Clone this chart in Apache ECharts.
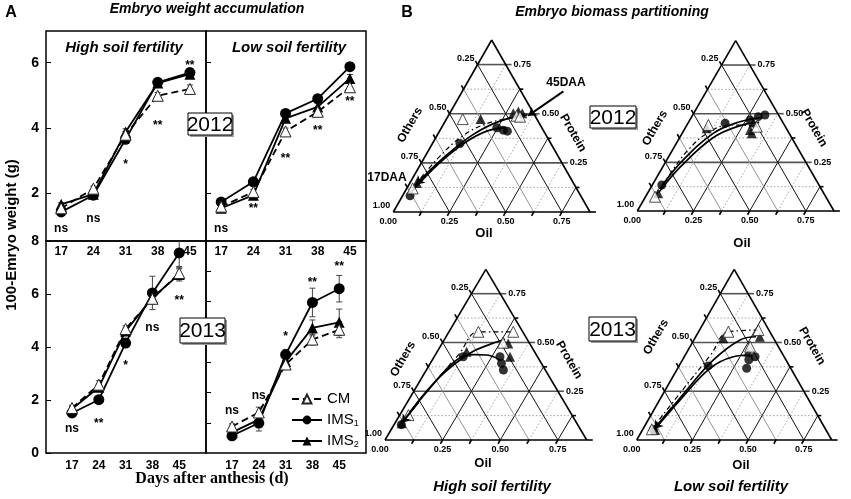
<!DOCTYPE html>
<html>
<head>
<meta charset="utf-8">
<script src="https://cdn.jsdelivr.net/npm/echarts@6/dist/echarts.min.js"></script>
<style>
  html, body { margin: 0; padding: 0; background: #fff; }
  #chart { width: 851px; height: 499px; }
</style>
</head>
<body>
<div id="chart"></div>
<script>
// ---------- panel A: embryo weight (g) ----------
const days = [17, 24, 31, 38, 45];

const cm12H   = [1.55, 2.15, 3.80, 4.99, 5.20];
const ims1_12H = [1.44, 1.95, 3.66, 5.40, 5.70];
const ims2_12H = [1.67, 1.98, 3.88, 5.38, 5.65];
const err12H  = [0.05, 0.08, 0.10, 0.10, 0.12];
const sig12H  = ['ns', 'ns', '*', '**', '**'];
const sigY12H = [0.91, 1.24, 2.96, 4.18, 6.0];

const cm12L   = [1.60, 2.05, 3.90, 4.50, 5.25];
const ims1_12L = [1.74, 2.36, 4.45, 4.90, 5.88];
const ims2_12L = [1.55, 1.95, 4.30, 4.65, 5.52];
const err12L  = [0.05, 0.08, 0.10, 0.10, 0.12];
const sig12L  = ['ns', '**', '**', '**', '**'];
const sigY12L = [0.94, 1.64, 3.17, 4.0, 4.89];

const cm13H   = [1.70, 2.58, 4.68, 5.82, 6.79];
const ims1_13H = [1.51, 2.01, 4.15, 6.04, 7.55];
const ims2_13H = [1.66, 2.48, 4.60, 5.86, 6.74];
const errCM13H = [0.10, 0.15, 0.12, 0.20, 0.25];
const errI1_13H = [0.10, 0.10, 0.15, 0.63, 0.60];
const errI2_13H = [0.10, 0.12, 0.12, 0.20, 0.25];
const sig13H  = ['ns', '**', '*', 'ns', '**'];
const sigY13H = [0.92, 1.22, 3.41, 4.73, 5.86];

const cm13L   = [1.00, 1.53, 3.34, 4.28, 4.65];
const ims1_13L = [0.65, 1.13, 3.71, 5.68, 6.20];
const ims2_13L = [0.78, 1.26, 3.45, 4.72, 4.93];
const errCM13L = [0.10, 0.20, 0.15, 0.20, 0.30];
const errI1_13L = [0.10, 0.30, 0.20, 0.54, 0.50];
const errI2_13L = [0.10, 0.20, 0.20, 0.30, 0.50];
const sig13L  = ['ns', 'ns', '*', '**', '**'];
const sigY13L = [1.6, 2.16, 4.5, 6.54, 7.14];

const yTicksTop = [2, 4, 6];
const yTicksBottom = [0, 2, 4, 6, 8];
const yTicksBottomRight = [1.14, 2.29, 3.43, 4.57, 5.71, 6.86];

// ---------- panel B: ternary points [oil, protein] (others = rest) ----------
const t12H_cm   = [[0.03, 0.137], [0.083, 0.54], [0.347, 0.56], [0.367, 0.554]];
const t12H_ims1 = [[0.038, 0.094], [0.14, 0.398], [0.281, 0.49], [0.321, 0.476], [0.345, 0.47]];
const t12H_ims2 = [[0.035, 0.169], [0.174, 0.54], [0.323, 0.574], [0.344, 0.584], [0.369, 0.574]];
const f12H_cm   = [[0.03, 0.14], [0.07, 0.31], [0.13, 0.44], [0.22, 0.515], [0.36, 0.555]];
const f12H_ims1 = [[0.035, 0.12], [0.09, 0.28], [0.16, 0.40], [0.24, 0.47], [0.33, 0.49]];
const f12H_ims2 = [[0.035, 0.16], [0.10, 0.32], [0.18, 0.45], [0.28, 0.53], [0.40, 0.565]];

const t12L_cm   = [[0.048, 0.084], [0.109, 0.505], [0.36, 0.495]];
const t12L_ims1 = [[0.048, 0.153], [0.189, 0.515], [0.306, 0.534], [0.338, 0.554], [0.367, 0.564]];
const t12L_ims2 = [[0.054, 0.104], [0.11, 0.486], [0.335, 0.476], [0.354, 0.456], [0.33, 0.52]];
const f12L_cm   = [[0.048, 0.09], [0.06, 0.24], [0.08, 0.36], [0.13, 0.46], [0.22, 0.505], [0.36, 0.50]];
const f12L_ims1 = [[0.05, 0.13], [0.077, 0.28], [0.158, 0.456], [0.26, 0.524], [0.36, 0.55]];
const f12L_ims2 = [[0.055, 0.11], [0.09, 0.26], [0.17, 0.43], [0.27, 0.50], [0.36, 0.52]];

const t13H_cm   = [[0.043, 0.146], [0.146, 0.634], [0.319, 0.634], [0.30, 0.57]];
const t13H_ims1 = [[0.036, 0.09], [0.144, 0.488], [0.326, 0.488], [0.353, 0.449], [0.382, 0.41]];
const t13H_ims2 = [[0.034, 0.098], [0.146, 0.517], [0.328, 0.566], [0.376, 0.488]];
const f13H_cm   = [[0.043, 0.146], [0.075, 0.33], [0.115, 0.50], [0.146, 0.634], [0.319, 0.634]];
const f13H_ims1 = [[0.034, 0.10], [0.07, 0.30], [0.121, 0.469], [0.19, 0.50], [0.255, 0.498], [0.336, 0.469]];
const f13H_ims2 = [[0.034, 0.10], [0.08, 0.35], [0.167, 0.508], [0.24, 0.56], [0.30, 0.59]];

const t13L_cm   = [[0.046, 0.063], [0.153, 0.634], [0.302, 0.644], [0.308, 0.547]];
const t13L_ims1 = [[0.055, 0.06], [0.15, 0.434], [0.363, 0.488], [0.354, 0.42], [0.34, 0.47]];
const t13L_ims2 = [[0.065, 0.059], [0.146, 0.596], [0.329, 0.605], [0.313, 0.517]];
const f13L_cm   = [[0.046, 0.063], [0.09, 0.30], [0.13, 0.50], [0.153, 0.634], [0.302, 0.644]];
const f13L_ims1 = [[0.06, 0.06], [0.105, 0.234], [0.166, 0.42], [0.251, 0.488], [0.332, 0.498]];
const f13L_ims2 = [[0.06, 0.06], [0.11, 0.293], [0.159, 0.469], [0.237, 0.586], [0.31, 0.605]];

const arrow12H_45 = [[0.514, 0.701], [0.406, 0.56]];
const arrow12H_17 = [[0.07, 0.25], [0.035, 0.16]];
const arrow13H_17 = [[0.055, 0.22], [0.034, 0.10]];
const arrow13L_17 = [[0.085, 0.19], [0.058, 0.065]];

const ternDiv = 7;
const oilTicks = ['0.00', '0.25', '0.50', '0.75'];
const proteinTicks = ['0.00', '0.25', '0.50', '0.75'];
const othersTicks = ['1.00', '0.75', '0.50', '0.25'];

// ---------- helpers ----------
const F = 'Liberation Sans, Arial, sans-serif';
const tern = (o, p) => [o + p / 2, p];

const lineGrids = [
  { left: 46, top: 31, width: 160, height: 210 },
  { left: 206, top: 31, width: 160, height: 210 },
  { left: 46, top: 241, width: 160, height: 212 },
  { left: 206, top: 241, width: 160, height: 212 }
];
const ternGrids = [
  { left: 393.3, top: 40, width: 196.7, height: 172 },
  { left: 637.3, top: 40.7, width: 196.7, height: 170.3 },
  { left: 385, top: 269.3, width: 201.7, height: 170.7 },
  { left: 636.7, top: 269.3, width: 195, height: 170.7 }
];

const panels = [
  { cm: cm12H, i1: ims1_12H, i2: ims2_12H, ecm: err12H, e1: err12H, e2: err12H, sig: sig12H, sigY: sigY12H },
  { cm: cm12L, i1: ims1_12L, i2: ims2_12L, ecm: err12L, e1: err12L, e2: err12L, sig: sig12L, sigY: sigY12L },
  { cm: cm13H, i1: ims1_13H, i2: ims2_13H, ecm: errCM13H, e1: errI1_13H, e2: errI2_13H, sig: sig13H, sigY: sigY13H },
  { cm: cm13L, i1: ims1_13L, i2: ims2_13L, ecm: errCM13L, e1: errI1_13L, e2: errI2_13L, sig: sig13L, sigY: sigY13L }
];
const ternSets = [
  { cm: t12H_cm, i1: t12H_ims1, i2: t12H_ims2, fcm: f12H_cm, f1: f12H_ims1, f2: f12H_ims2, arrows: [arrow12H_45, arrow12H_17] },
  { cm: t12L_cm, i1: t12L_ims1, i2: t12L_ims2, fcm: f12L_cm, f1: f12L_ims1, f2: f12L_ims2, arrows: [] },
  { cm: t13H_cm, i1: t13H_ims1, i2: t13H_ims2, fcm: f13H_cm, f1: f13H_ims1, f2: f13H_ims2, arrows: [arrow13H_17] },
  { cm: t13L_cm, i1: t13L_ims1, i2: t13L_ims2, fcm: f13L_cm, f1: f13L_ims1, f2: f13L_ims2, arrows: [arrow13L_17] }
];

const xAxes = [], yAxes = [], series = [];

// line panels axes
const xRange = [[13.7, 48.5], [13.7, 48.5], [10.2, 52], [10.2, 52]];
const yRange = [[0.55, 6.97], [0.55, 6.97], [0, 8], [0, 8]];
const yTickSets = [yTicksTop, yTicksTop, yTicksBottom, yTicksBottomRight];
const yLabelSets = [yTicksTop, [], yTicksBottom, []];
for (let g = 0; g < 4; g++) {
  xAxes.push({
    gridIndex: g, type: 'value', min: xRange[g][0], max: xRange[g][1],
    axisLine: { show: false }, axisTick: { show: false }, splitLine: { show: false },
    axisLabel: { customValues: days, margin: g < 2 ? 5 : 7, fontSize: 12, fontWeight: 'bold', color: '#000', fontFamily: F }
  });
  yAxes.push({
    gridIndex: g, type: 'value', min: yRange[g][0], max: yRange[g][1],
    axisLine: { show: false }, splitLine: { show: false },
    axisTick: { show: true, inside: true, length: 5, customValues: yTickSets[g], lineStyle: { color: '#000', width: 1 } },
    axisLabel: { show: yLabelSets[g].length > 0, customValues: yLabelSets[g], margin: 7, fontSize: 14, fontWeight: 'bold', color: '#000', fontFamily: F }
  });
}
for (let t = 0; t < 4; t++) {
  xAxes.push({ gridIndex: 4 + t, type: 'value', min: 0, max: 1, show: false });
  yAxes.push({ gridIndex: 4 + t, type: 'value', min: 0, max: 1, show: false });
}

const errRender = (params, api) => {
  const x = api.value(0), y = api.value(1), e = api.value(2);
  const a = api.coord([x, y + e]), b = api.coord([x, y - e]);
  const st = { stroke: '#444', lineWidth: 1 };
  return { type: 'group', children: [
    { type: 'line', shape: { x1: a[0], y1: a[1], x2: b[0], y2: b[1] }, style: st },
    { type: 'line', shape: { x1: a[0] - 3, y1: a[1], x2: a[0] + 3, y2: a[1] }, style: st },
    { type: 'line', shape: { x1: b[0] - 3, y1: b[1], x2: b[0] + 3, y2: b[1] }, style: st }
  ]};
};

const symCM = { symbol: 'triangle', symbolSize: 11, itemStyle: { color: '#fff', borderColor: '#222', borderWidth: 1 } };
const symI1 = { symbol: 'circle', symbolSize: 11, itemStyle: { color: '#000' } };
const symI2 = { symbol: 'triangle', symbolSize: 11, itemStyle: { color: '#000' } };

// text marks drawn as invisible scatter points carrying labels
const textMarks = (data, labelStyle, ax, z) => Object.assign({
  type: 'scatter', silent: true, symbol: 'rect', symbolSize: 0.1, z: z || 7,
  itemStyle: { color: '#fff', opacity: 1 },
  data,
  label: Object.assign({ show: true, position: [0, 0], align: 'center', verticalAlign: 'middle',
    color: '#000', textBorderWidth: 0, formatter: '{b}', fontFamily: F }, labelStyle)
}, ax);

panels.forEach((p, g) => {
  const ax = { xAxisIndex: g, yAxisIndex: g };
  const pts = arr => days.map((d, k) => [d, arr[k]]);
  [[p.i2, p.e2], [p.i1, p.e1], [p.cm, p.ecm]].forEach(([v, e]) => {
    series.push(Object.assign({ type: 'custom', renderItem: errRender, clip: true, z: 1, silent: true,
      data: days.map((d, k) => [d, v[k], e[k]]), encode: { x: 0, y: 1 } }, ax));
  });
  series.push(Object.assign({ type: 'line', name: 'IMS2', data: pts(p.i2), z: 3,
    lineStyle: { color: '#000', width: 1.8 } }, symI2, ax));
  series.push(Object.assign({ type: 'line', name: 'IMS1', data: pts(p.i1), z: 4,
    lineStyle: { color: '#000', width: 1.8 } }, symI1, ax));
  series.push(Object.assign({ type: 'line', name: 'CM', data: pts(p.cm), z: 5,
    lineStyle: { color: '#000', width: 1.8, type: [7, 4] } }, symCM, ax));
  series.push(textMarks(days.map((d, k) => ({ value: [d, p.sigY[k]], name: p.sig[k],
      label: { offset: p.sig[k] === 'ns' ? [0, 0] : [0, 3] } })),
    { fontSize: 12, fontWeight: 'bold' }, ax));
});

// ternary grid lines, edges and small edge ticks
const ternSegs = [];
for (let j = 1; j < ternDiv; j++) {
  const f = j / ternDiv, even = j % 2 === 0;
  ternSegs.push([f, 0, f + (1 - f) / 2, 1 - f, even ? 1 : 3]);   // constant oil
  ternSegs.push([f, 0, f / 2, f, even ? 1 : 2]);                   // constant others
  ternSegs.push([f / 2, f, 1 - f / 2, f, even ? 4 : 3]);           // constant protein
  ternSegs.push([f, 0, f - 0.011, -0.022, 0]);                     // bottom tick
  ternSegs.push([f / 2, f, f / 2 - 0.011, f + 0.022, 0]);          // left tick
  if (!even) ternSegs.push([1 - f / 2, f, 1 - f / 2 + 0.018, f, 0]); // right tick
}
for (let j = 0; j < ternDiv; j += 2) {
  const f = j / ternDiv;
  ternSegs.push([1 - f / 2, f, 1 - f / 2 + 0.03, f, j === 0 ? 0 : 4]);
}
ternSegs.push([0, 0, 1, 0, 0], [0, 0, 0.5, 1, 0], [1, 0, 0.5, 1, 0]);
const segStyles = [
  { stroke: '#000', lineWidth: 1.6 },
  { stroke: '#111', lineWidth: 1 },
  { stroke: '#888', lineWidth: 0.9 },
  { stroke: '#999', lineWidth: 0.9, lineDash: [1.5, 2] },
  { stroke: '#555', lineWidth: 1.6 }
];
const segRender = (params, api) => {
  const a = api.coord([api.value(0), api.value(1)]), b = api.coord([api.value(2), api.value(3)]);
  return { type: 'line', shape: { x1: a[0], y1: a[1], x2: b[0], y2: b[1] }, style: segStyles[api.value(4)] };
};

ternSets.forEach((s, t) => {
  const ax = { xAxisIndex: 4 + t, yAxisIndex: 4 + t };
  const conv = arr => arr.map(q => tern(q[0], q[1]));
  series.push(Object.assign({ type: 'custom', renderItem: segRender, silent: true, z: 1,
    data: ternSegs, encode: { x: [0, 2], y: [1, 3] } }, ax));
  series.push(Object.assign({ type: 'line', smooth: 0.4, symbol: 'none', silent: true, z: 3, data: conv(s.f1),
    lineStyle: { color: '#000', width: 1.7 } }, ax));
  series.push(Object.assign({ type: 'line', smooth: 0.4, symbol: 'none', silent: true, z: 3, data: conv(s.f2),
    lineStyle: { color: '#000', width: 1.7 } }, ax));
  series.push(Object.assign({ type: 'line', smooth: 0.4, symbol: 'none', silent: true, z: 3, data: conv(s.fcm),
    lineStyle: { color: '#000', width: 1.2, type: [5, 3, 1.5, 3] } }, ax));
  series.push(Object.assign({ type: 'scatter', z: 4, data: conv(s.i2) }, symI2, { symbolSize: 10 }, ax));
  series.push(Object.assign({ type: 'scatter', z: 4, data: conv(s.i1) }, symI1, { symbolSize: 9 }, ax));
  series.push(Object.assign({ type: 'scatter', z: 5, data: conv(s.cm) }, symCM, { symbolSize: 11 }, ax));
  if (s.arrows.length) {
    series.push(Object.assign({ type: 'lines', coordinateSystem: 'cartesian2d', z: 6, silent: true,
      symbol: ['none', 'arrow'], symbolSize: 8,
      lineStyle: { color: '#000', width: 2, curveness: 0, opacity: 1 },
      data: s.arrows.map(a => ({ coords: [tern(a[0][0], a[0][1]), tern(a[1][0], a[1][1])] })) }, ax));
  }
  // tick labels
  const oilData = oilTicks.map((txt, i) => ({ value: [2 * i / ternDiv, 0], name: txt,
    label: { offset: [i === 0 ? -5 : 0, 10] } }));
  const protData = proteinTicks.map((txt, i) => {
    const f = 2 * i / ternDiv;
    return { value: [1 - f / 2 + 0.03, f], name: txt, label: { align: 'left', offset: [2, 0] } };
  });
  const othData = othersTicks.map((txt, i) => {
    const f = 2 * i / ternDiv;
    return { value: [f / 2, f], name: txt, label: { align: 'right', offset: [-3, -6] } };
  });
  series.push(textMarks(oilData.concat(protData, othData), { fontSize: 9, fontWeight: 'bold' }, ax));
});

// ---------- text / boxes ----------
const txt = (x, y, text, font, rot) => ({ type: 'text', x, y, rotation: rot || 0, z: 100,
  style: { text, font, fill: '#000', align: 'center', verticalAlign: 'middle' } });
const yearBox = (x, y, w, h, text) => ({ type: 'group', z: 100, children: [
  { type: 'rect', z: 100, shape: { x: x + 2, y: y + 2, width: w, height: h }, style: { fill: '#999' } },
  { type: 'rect', z: 101, shape: { x, y, width: w, height: h }, style: { fill: '#fff', stroke: '#000', lineWidth: 1 } },
  { type: 'text', z: 102, x: x + w / 2, y: y + h / 2 + 1, style: { text, font: '21px ' + F, fill: '#000', align: 'center', verticalAlign: 'middle' } }
]});
const bi = s => 'italic bold ' + s + 'px ' + F;
const b = s => 'bold ' + s + 'px ' + F;

const graphic = [
  txt(11, 13, 'A', b(16)), txt(407, 13, 'B', b(16)),
  txt(207, 9, 'Embryo weight accumulation', bi(14)),
  txt(612, 12, 'Embryo biomass partitioning', bi(14)),
  txt(124, 48, 'High soil fertility', bi(15)),
  txt(289, 48, 'Low soil fertility', bi(15)),
  txt(12, 235, '100-Emryo weight (g)', b(15), Math.PI / 2),
  txt(212, 479, 'Days after anthesis (d)', 'bold 16px Liberation Serif, Times New Roman, serif'),
  yearBox(188, 113, 44, 22, '2012'), yearBox(180, 318, 45, 25, '2013'),
  yearBox(590, 106, 46, 22, '2012'), yearBox(589, 317, 47, 24, '2013'),
  txt(484, 233, 'Oil', b(13)), txt(742, 243, 'Oil', b(13)),
  txt(483, 463, 'Oil', b(13)), txt(741, 465, 'Oil', b(13)),
  txt(410, 125, 'Others', b(12), Math.PI / 3), txt(655, 128, 'Others', b(12), Math.PI / 3),
  txt(403, 359, 'Others', b(12), Math.PI / 3), txt(656, 337, 'Others', b(12), Math.PI / 3),
  txt(573, 133, 'Protein', b(12), -Math.PI / 3), txt(814, 128, 'Protein', b(12), -Math.PI / 3),
  txt(569, 360, 'Protein', b(12), -Math.PI / 3), txt(812, 346, 'Protein', b(12), -Math.PI / 3),
  txt(566, 83, '45DAA', b(12)), txt(387, 178, '17DAA', b(12)),
  txt(492, 487, 'High soil fertility', bi(15)), txt(731, 487, 'Low soil fertility', bi(15))
];

const chart = echarts.init(document.getElementById('chart'));
chart.setOption({
  animation: false,
  backgroundColor: '#fff',
  grid: lineGrids.map(g => Object.assign({ show: true, borderColor: '#000', borderWidth: 1.5, backgroundColor: 'transparent' }, g))
    .concat(ternGrids.map(g => Object.assign({ show: false }, g))),
  xAxis: xAxes,
  yAxis: yAxes,
  legend: {
    data: ['CM', 'IMS1', 'IMS2'], orient: 'vertical', left: 286, top: 386,
    itemWidth: 30, itemHeight: 11, itemGap: 5, selectedMode: false,
    formatter: n => n === 'CM' ? 'CM' : 'IMS{s|' + n.slice(3) + '}',
    textStyle: { fontSize: 15, color: '#000', fontFamily: F, lineHeight: 16,
      rich: { s: { fontSize: 9, fontFamily: F, verticalAlign: 'bottom', lineHeight: 16, padding: [7, 0, 0, 0] } } }
  },
  graphic,
  series
});
</script>
</body>
</html>
